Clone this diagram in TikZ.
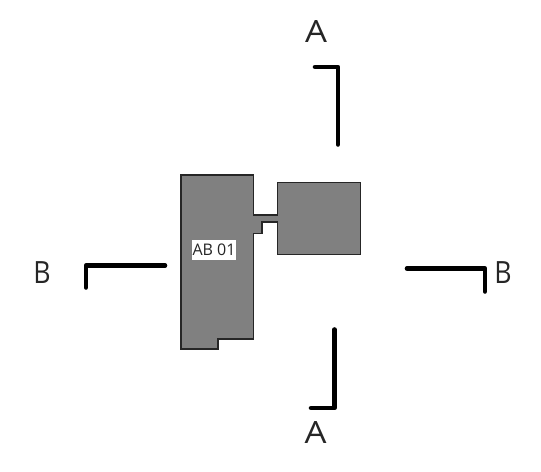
\documentclass[tikz,border=0pt]{standalone}
\usepackage{fontspec}
\setmainfont{Open Sans}
\begin{document}
\begin{tikzpicture}[x=0.75pt,y=-0.75pt,
  plan/.style={draw=black!85,line width=0.8pt,fill=black!50,line join=miter},
  cutline/.style={draw=black,line width=3.4pt,line cap=round,line join=round},
  biglabel/.style={inner sep=0pt,font=\fontsize{23}{27}\selectfont,text=black!85},
  tag/.style={fill=white,inner sep=0pt,minimum width=33pt,minimum height=15pt,font=\fontsize{12}{14}\selectfont,text=black!85}]
\useasboundingbox (0,0) rectangle (541,471);
\draw[plan] (181,175) -- (253.5,175) -- (253.5,215) -- (277.5,215) -- (277.5,182.5) -- (360.5,182.5)
  -- (360.5,254.5) -- (277.5,254.5) -- (277.5,222) -- (262,222) -- (262,233.5) -- (253.5,233.5)
  -- (253.5,339) -- (218,339) -- (218,349) -- (181,349) -- cycle;
\node[tag] (ab) at (214,250) {AB 01};
\coordinate (a1s) at (315,67); \coordinate (a1c) at (338,67); \coordinate (a1e) at (338,144.5);
\coordinate (a2s) at (334.5,329.5); \coordinate (a2c) at (334.5,408); \coordinate (a2e) at (311,408);
\coordinate (b1s) at (86,287.5); \coordinate (b1c) at (86,265.5); \coordinate (b1e) at (165,265.5);
\coordinate (b2s) at (407,268.5); \coordinate (b2c) at (485,268.5); \coordinate (b2e) at (485,291.5);
\draw[cutline] (a1s) -- (a1c) -- (a1e);
\draw[cutline] (a2s) -- (a2c) -- (a2e);
\draw[cutline] (b1s) -- (b1c) -- (b1e);
\draw[cutline] (b2s) -- (b2c) -- (b2e);
\node[biglabel] (la1) at (316,31.5) {\scalebox{1.13}[1]{A}};
\node[biglabel] (la2) at (315.5,432) {\scalebox{1.13}[1]{A}};
\node[biglabel] (lb1) at (42,272.5) {\scalebox{0.87}[1]{B}};
\node[biglabel] (lb2) at (503,272.5) {\scalebox{0.87}[1]{B}};
\end{tikzpicture}
\end{document}
